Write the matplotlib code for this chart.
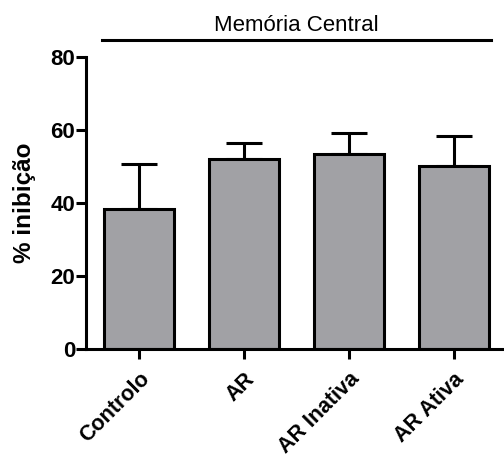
import matplotlib
matplotlib.use("Agg")
import matplotlib.pyplot as plt

plt.rcParams["font.family"] = ["Liberation Sans", "DejaVu Sans"]

groups = ["Controlo", "AR", "AR Inativa", "AR Ativa"]
means = [38.4, 52.0, 53.6, 50.1]
errors = [12.3, 4.5, 5.5, 8.4]

fig = plt.figure(figsize=(5.04, 4.58), dpi=100)
ax = fig.add_axes([0.171, 0.238, 0.829, 0.637])

x = list(range(len(groups)))
ax.bar(x, means, width=0.667, color="#a1a1a5", edgecolor="black", linewidth=2.2, zorder=2)
ax.errorbar(x, means, yerr=[[0] * len(errors), errors], fmt="none", ecolor="black",
            elinewidth=2.2, capsize=13, capthick=2.2, zorder=1)

ax.set_xlim(-0.505, 3.48)
ax.set_ylim(0, 80)
ax.set_yticks([0, 20, 40, 60, 80])
ax.set_xticks(x)
ax.set_xticklabels(groups, rotation=45, ha="right", rotation_mode="anchor",
                   fontsize=15.5, fontweight="bold")
for lab in ax.get_yticklabels():
    lab.set_fontsize(16)
    lab.set_fontweight("bold")
ax.tick_params(axis="both", width=2.2, length=7, direction="out")
ax.tick_params(axis="y", pad=1)
ax.tick_params(axis="x", pad=7)

for side in ["top", "right"]:
    ax.spines[side].set_visible(False)
for side in ["left", "bottom"]:
    ax.spines[side].set_linewidth(2.2)

ax.set_ylabel("% inibição", fontsize=17.5, fontweight="bold", labelpad=10)

# group bracket and title above the bars
ax.plot([-0.35, 3.36], [84.7, 84.7], color="black", linewidth=2.2, clip_on=False)
ax.text(1.5, 88.8, "Memória Central", ha="center", va="center", fontsize=16)

fig.savefig("out.png", dpi=100)
